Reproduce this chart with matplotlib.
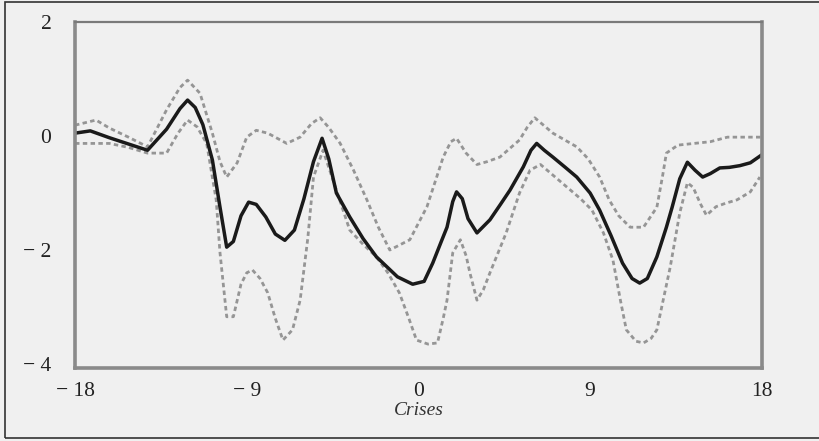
import matplotlib.pyplot as plt
from matplotlib.patches import Rectangle

# central estimate
x_mid = [-18, -17.2, -16.2, -15.2, -14.2, -13.2, -12.5, -12.1, -11.7, -11.3, -10.8, -10.4,
         -10.05, -9.7, -9.3, -8.9, -8.5, -8.0, -7.5, -7.0, -6.5, -6.0, -5.5, -5.05, -4.7,
         -4.3, -3.6, -2.9, -2.2, -1.1, -0.3, 0.3, 0.75, 1.2, 1.5, 1.8, 2.0, 2.3, 2.6, 3.07,
         3.75, 4.3, 4.8, 5.5, 5.9, 6.2, 6.6, 7.05, 7.7, 8.3, 9.0, 9.5, 10.1, 10.7, 11.2,
         11.6, 12.0, 12.5, 13.0, 13.3, 13.7, 14.1, 14.5, 14.9, 15.3, 15.8, 16.3, 16.85,
         17.4, 18]
y_mid = [0.05, 0.09, -0.03, -0.14, -0.25, 0.12, 0.48, 0.63, 0.5, 0.2, -0.42, -1.25,
         -1.95, -1.85, -1.4, -1.16, -1.2, -1.42, -1.72, -1.83, -1.65, -1.1, -0.45, -0.04, -0.4,
         -1.0, -1.42, -1.8, -2.12, -2.47, -2.6, -2.55, -2.23, -1.85, -1.6, -1.15, -0.98, -1.1, -1.45, -1.7,
         -1.47, -1.2, -0.95, -0.54, -0.25, -0.13, -0.25, -0.37, -0.55, -0.72, -1.0, -1.3, -1.75, -2.23, -2.5,
         -2.58, -2.5, -2.12, -1.6, -1.25, -0.75, -0.46, -0.6, -0.72, -0.66, -0.56, -0.55, -0.52,
         -0.47, -0.33]

# upper band
x_up = [-18, -16.9, -16.2, -15.2, -14.2, -13.2, -12.5, -12.1, -11.45, -10.8, -10.4, -10.05,
        -9.5, -9.0, -8.5, -7.9, -6.9, -6.2, -5.6, -5.15, -4.7, -4.1, -3.4, -2.7, -2.1, -1.5,
        -0.45, 0.45, 1.3, 1.7, 2.0, 2.5, 3.07, 3.6, 4.27, 5.3, 5.7, 6.1, 7.05, 8.3, 8.9, 9.5,
        10.0, 10.5, 11.1, 11.8, 12.5, 12.8, 13.0, 13.6, 15.3, 16.2, 18]
y_up = [0.19, 0.28, 0.14, -0.02, -0.19, 0.46, 0.85, 0.98, 0.75, 0.05, -0.45, -0.72,
        -0.47, -0.02, 0.1, 0.05, -0.13, -0.02, 0.22, 0.32, 0.15, -0.13, -0.6, -1.12, -1.6, -2.0,
        -1.82, -1.24, -0.37, -0.1, -0.04, -0.3, -0.5, -0.45, -0.37, -0.07, 0.15, 0.32, 0.05, -0.19, -0.4, -0.72,
        -1.12, -1.4, -1.6, -1.6, -1.25, -0.7, -0.3, -0.16, -0.1, -0.02, -0.02]

# lower band
x_lo = [-18, -16.2, -15.2, -14.2, -13.2, -12.6, -12.1, -11.6, -11.1, -10.6, -10.4, -10.05,
        -9.7, -9.3, -9.0, -8.7, -8.3, -7.9, -7.5, -7.1, -6.6, -6.2, -5.8, -5.5, -5.0, -4.7,
        -4.3, -3.6, -2.9, -2.2, -1.6, -1.0, -0.5, -0.1, 0.5, 1.0, 1.3, 1.5, 1.8, 2.2, 2.5,
        2.7, 3.07, 3.4, 3.75, 4.6, 5.3, 5.85, 6.4, 7.1, 7.8, 8.5, 9.1, 9.7, 10.2, 10.6, 10.9,
        11.4, 11.8, 12.2, 12.5, 13.2, 13.7, 14.1, 14.4, 14.8, 15.1, 15.6, 16.1, 16.7, 17.4,
        17.9]
y_lo = [-0.13, -0.13, -0.2, -0.3, -0.3, 0.05, 0.28, 0.16, -0.13, -1.12, -2.05, -3.17,
        -3.17, -2.6, -2.4, -2.35, -2.5, -2.75, -3.2, -3.58, -3.4, -2.88, -1.8, -0.72, -0.25, -0.55,
        -0.95, -1.65, -1.9, -2.12, -2.4, -2.75, -3.2, -3.58, -3.65, -3.63, -3.2, -2.88, -2.05, -1.82, -2.1,
        -2.4, -2.88, -2.7, -2.4, -1.7, -1.0, -0.6, -0.5, -0.7, -0.9, -1.1, -1.3, -1.7, -2.18, -2.9, -3.4,
        -3.6, -3.63, -3.55, -3.4, -2.3, -1.35, -0.82, -0.9, -1.2, -1.39, -1.24, -1.18, -1.12, -0.98,
        -0.72]

xticks = [-18, -9, 0, 9, 18]
yticks = [-4, -2, 0, 2]


def fmt(v):
    # the original prints a wide minus followed by a small gap
    return ('\u2212 ' + str(-v)) if v < 0 else str(v)


bg = '#f0f0f0'
fig = plt.figure(figsize=(8.2, 4.41), dpi=100, facecolor=bg)
ax = fig.add_axes([0.0915, 0.1655, 0.8375, 0.7846], facecolor=bg)

band_style = dict(color='#959595', lw=2.0, ls=(0, (1.6, 1.2)))
ax.plot(x_up, y_up, **band_style)
ax.plot(x_lo, y_lo, **band_style)
ax.plot(x_mid, y_mid, color='#1a1a1a', lw=2.5)

ax.set_xlim(-18, 18)
ax.set_ylim(-4.07, 2.0)
ax.set_xticks(xticks)
ax.set_yticks(yticks)
ax.set_xticklabels([fmt(t) for t in xticks])
ax.set_yticklabels([fmt(t) for t in yticks])
ax.tick_params(length=0, labelsize=15.5, colors='#222222')
ax.tick_params(axis='y', pad=17)
ax.tick_params(axis='x', pad=10)
for lab in ax.get_xticklabels() + ax.get_yticklabels():
    lab.set_family('Liberation Serif')

for side in ['left', 'bottom', 'right']:
    ax.spines[side].set_color('#8a8a8a')
    ax.spines[side].set_linewidth(2.6)
ax.spines['top'].set_color('#7a7a7a')
ax.spines['top'].set_linewidth(1.6)

ax.set_xlabel('Crises', fontsize=14, style='italic', family='Liberation Serif',
              color='#333333', labelpad=1)

# outer frame around the picture
fig.patches.append(Rectangle((0.006, 0.006), 1.2, 0.99, transform=fig.transFigure,
                             fill=False, edgecolor='#333333', lw=1.2))

fig.savefig('out.png', dpi=100, facecolor=bg)
